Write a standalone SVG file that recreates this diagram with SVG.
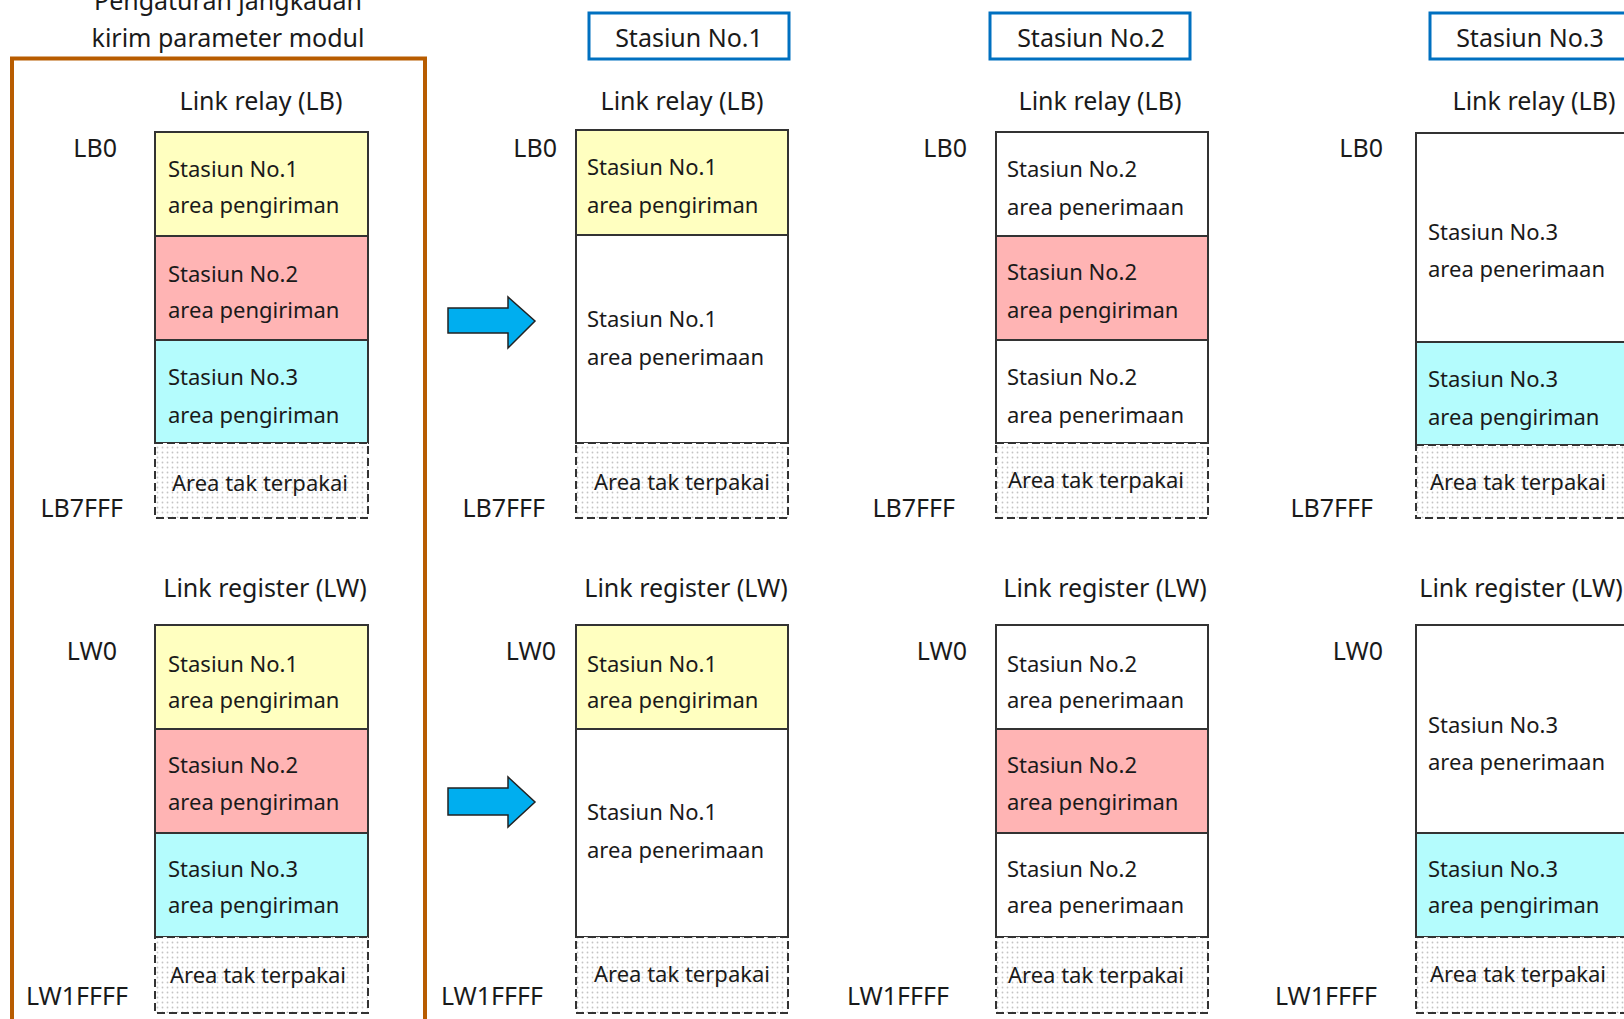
<svg xmlns="http://www.w3.org/2000/svg" width="1624" height="1019" viewBox="0 0 1624 1019">
<style>
text{font-family:"Noto Sans","Liberation Sans",sans-serif;fill:#1a1a1a}
.l{font-size:25px}
.t{font-size:22px}
.m{text-anchor:middle}
.e{text-anchor:end}
.cell{stroke:#333;stroke-width:2}
.y{fill:#FFFFC0}.p{fill:#FFB4B4}.c{fill:#B4FCFD}.w{fill:#fff}
.un{fill:url(#dots);stroke:#333;stroke-width:2;stroke-dasharray:8 4}
.hdr{fill:#fff;stroke:#0070C0;stroke-width:3}
.arr{fill:#00AEEF;stroke:#222;stroke-width:1.5;stroke-linejoin:miter}
</style>
<defs>
<pattern id="dots" width="5" height="5" patternUnits="userSpaceOnUse">
<rect width="5" height="5" fill="#fff"/>
<circle cx="2.5" cy="2.5" r="0.9" fill="#c4c4c4"/>
</pattern>
</defs>
<rect width="1624" height="1019" fill="#fff"/>

<g id="frame-param">
<rect x="12" y="58.5" width="413" height="1000" fill="none" stroke="#B85C00" stroke-width="4"/>
<text class="l m" x="228" y="10">Pengaturan jangkauan</text>
<text class="l m" x="228" y="47">kirim parameter modul</text>
</g>

<g id="param-lb">
<text class="l m" x="261" y="110">Link relay (LB)</text>
<text class="l e" x="117" y="157">LB0</text>
<text class="l e" x="123" y="517">LB7FFF</text>
<rect class="cell y" x="155" y="132" width="213" height="104"/>
<rect class="cell p" x="155" y="236" width="213" height="104"/>
<rect class="cell c" x="155" y="340" width="213" height="103"/>
<rect x="154" y="444" width="215" height="75" fill="#fff"/>
<rect class="un" x="155" y="443" width="213" height="75"/>
<text class="t" x="168" y="177">Stasiun No.1</text><text class="t" x="168" y="213">area pengiriman</text>
<text class="t" x="168" y="282">Stasiun No.2</text><text class="t" x="168" y="318">area pengiriman</text>
<text class="t" x="168" y="385">Stasiun No.3</text><text class="t" x="168" y="423">area pengiriman</text>
<text class="t m" x="260" y="491">Area tak terpakai</text>
</g>

<g id="param-lw">
<text class="l m" x="265" y="597">Link register (LW)</text>
<text class="l e" x="117" y="660">LW0</text>
<text class="l e" x="128" y="1005">LW1FFFF</text>
<rect class="cell y" x="155" y="625" width="213" height="104"/>
<rect class="cell p" x="155" y="729" width="213" height="104"/>
<rect class="cell c" x="155" y="833" width="213" height="104"/>
<rect x="154" y="938" width="215" height="76" fill="#fff"/>
<rect class="un" x="155" y="937" width="213" height="76"/>
<text class="t" x="168" y="672">Stasiun No.1</text><text class="t" x="168" y="708">area pengiriman</text>
<text class="t" x="168" y="773">Stasiun No.2</text><text class="t" x="168" y="810">area pengiriman</text>
<text class="t" x="168" y="877">Stasiun No.3</text><text class="t" x="168" y="913">area pengiriman</text>
<text class="t m" x="258" y="983">Area tak terpakai</text>
</g>

<g id="st1-header">
<rect class="hdr" x="589" y="13" width="200" height="46"/>
<text class="l m" x="689" y="47">Stasiun No.1</text>
</g>

<g id="st1-lb">
<text class="l m" x="682" y="110">Link relay (LB)</text>
<text class="l e" x="557" y="157">LB0</text>
<text class="l e" x="545" y="517">LB7FFF</text>
<rect class="cell y" x="576" y="130" width="212" height="105"/>
<rect class="cell w" x="576" y="235" width="212" height="208"/>
<rect x="575" y="444" width="214" height="75" fill="#fff"/>
<rect class="un" x="576" y="443" width="212" height="75"/>
<text class="t" x="587" y="175">Stasiun No.1</text><text class="t" x="587" y="213">area pengiriman</text>
<text class="t" x="587" y="327">Stasiun No.1</text><text class="t" x="587" y="365">area penerimaan</text>
<text class="t m" x="682" y="490">Area tak terpakai</text>
</g>

<g id="st1-lw">
<text class="l m" x="686" y="597">Link register (LW)</text>
<text class="l e" x="556" y="660">LW0</text>
<text class="l e" x="543" y="1005">LW1FFFF</text>
<rect class="cell y" x="576" y="625" width="212" height="104"/>
<rect class="cell w" x="576" y="729" width="212" height="208"/>
<rect x="575" y="938" width="214" height="76" fill="#fff"/>
<rect class="un" x="576" y="937" width="212" height="76"/>
<text class="t" x="587" y="672">Stasiun No.1</text><text class="t" x="587" y="708">area pengiriman</text>
<text class="t" x="587" y="820">Stasiun No.1</text><text class="t" x="587" y="858">area penerimaan</text>
<text class="t m" x="682" y="982">Area tak terpakai</text>
</g>

<g id="st2-header">
<rect class="hdr" x="990" y="13" width="200" height="46"/>
<text class="l m" x="1091" y="47">Stasiun No.2</text>
</g>

<g id="st2-lb">
<text class="l m" x="1100" y="110">Link relay (LB)</text>
<text class="l e" x="967" y="157">LB0</text>
<text class="l e" x="955" y="517">LB7FFF</text>
<rect class="cell w" x="996" y="132" width="212" height="104"/>
<rect class="cell p" x="996" y="236" width="212" height="104"/>
<rect class="cell w" x="996" y="340" width="212" height="103"/>
<rect x="995" y="444" width="214" height="75" fill="#fff"/>
<rect class="un" x="996" y="443" width="212" height="75"/>
<text class="t" x="1007" y="177">Stasiun No.2</text><text class="t" x="1007" y="215">area penerimaan</text>
<text class="t" x="1007" y="280">Stasiun No.2</text><text class="t" x="1007" y="318">area pengiriman</text>
<text class="t" x="1007" y="385">Stasiun No.2</text><text class="t" x="1007" y="423">area penerimaan</text>
<text class="t m" x="1096" y="488">Area tak terpakai</text>
</g>

<g id="st2-lw">
<text class="l m" x="1105" y="597">Link register (LW)</text>
<text class="l e" x="967" y="660">LW0</text>
<text class="l e" x="949" y="1005">LW1FFFF</text>
<rect class="cell w" x="996" y="625" width="212" height="104"/>
<rect class="cell p" x="996" y="729" width="212" height="104"/>
<rect class="cell w" x="996" y="833" width="212" height="104"/>
<rect x="995" y="938" width="214" height="76" fill="#fff"/>
<rect class="un" x="996" y="937" width="212" height="76"/>
<text class="t" x="1007" y="672">Stasiun No.2</text><text class="t" x="1007" y="708">area penerimaan</text>
<text class="t" x="1007" y="773">Stasiun No.2</text><text class="t" x="1007" y="810">area pengiriman</text>
<text class="t" x="1007" y="877">Stasiun No.2</text><text class="t" x="1007" y="913">area penerimaan</text>
<text class="t m" x="1096" y="983">Area tak terpakai</text>
</g>

<g id="st3-header">
<rect class="hdr" x="1430" y="13" width="200" height="46"/>
<text class="l m" x="1530" y="47">Stasiun No.3</text>
</g>

<g id="st3-lb">
<text class="l m" x="1534" y="110">Link relay (LB)</text>
<text class="l e" x="1383" y="157">LB0</text>
<text class="l e" x="1373" y="517">LB7FFF</text>
<rect class="cell w" x="1416" y="133" width="212" height="209"/>
<rect class="cell c" x="1416" y="342" width="212" height="103"/>
<rect x="1415" y="446" width="214" height="73" fill="#fff"/>
<rect class="un" x="1416" y="445" width="212" height="73"/>
<text class="t" x="1428" y="240">Stasiun No.3</text><text class="t" x="1428" y="277">area penerimaan</text>
<text class="t" x="1428" y="387">Stasiun No.3</text><text class="t" x="1428" y="425">area pengiriman</text>
<text class="t m" x="1518" y="490">Area tak terpakai</text>
</g>

<g id="st3-lw">
<text class="l m" x="1521" y="597">Link register (LW)</text>
<text class="l e" x="1383" y="660">LW0</text>
<text class="l e" x="1377" y="1005">LW1FFFF</text>
<rect class="cell w" x="1416" y="625" width="212" height="208"/>
<rect class="cell c" x="1416" y="833" width="212" height="104"/>
<rect x="1415" y="938" width="214" height="76" fill="#fff"/>
<rect class="un" x="1416" y="937" width="212" height="76"/>
<text class="t" x="1428" y="733">Stasiun No.3</text><text class="t" x="1428" y="770">area penerimaan</text>
<text class="t" x="1428" y="877">Stasiun No.3</text><text class="t" x="1428" y="913">area pengiriman</text>
<text class="t m" x="1518" y="982">Area tak terpakai</text>
</g>

<g id="connectors">
<path class="arr" d="M448 308 H508 V297 L535 321 L508 348 V333 H448 Z"/>
<path class="arr" d="M448 788 H508 V777 L535 802 L508 827 V815 H448 Z"/>
</g>
</svg>
